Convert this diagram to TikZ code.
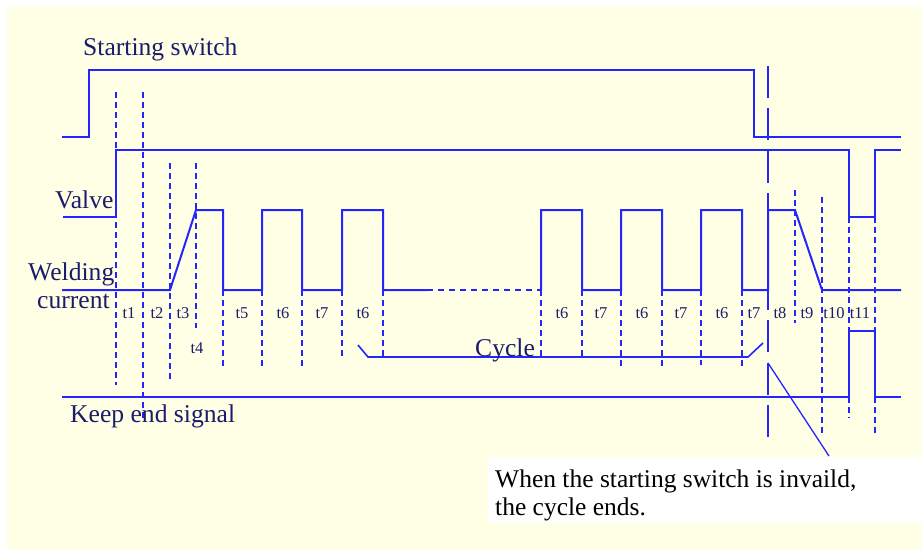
\documentclass[tikz,border=0pt]{standalone}
\usepackage{fontspec}
\setmainfont{Liberation Serif}
\definecolor{sigblue}{HTML}{2424FF}
\definecolor{paper}{HTML}{FFFFE6}
\definecolor{ink}{HTML}{1C1C6C}
\begin{document}
\begin{tikzpicture}[x=1pt,y=-1pt,
  sig/.style={draw=sigblue,line width=2pt,line join=miter},
  tick/.style={draw=sigblue,line width=1.8pt,dash pattern=on 6pt off 4pt},
  gapline/.style={draw=sigblue,line width=2pt,dash pattern=on 6pt off 5pt},
  stopline/.style={draw=sigblue,line width=2pt,dash pattern=on 32pt off 10.4pt},
  pointer/.style={draw=sigblue,line width=1.3pt},
  lbl/.style={text=ink,font=\fontsize{25.6}{28}\selectfont,inner sep=0pt,anchor=base west},
  tlbl/.style={text=ink,font=\fontsize{16.5}{18}\selectfont,inner sep=0pt,anchor=base},
  note/.style={text=black,font=\fontsize{25.5}{28}\selectfont,inner sep=0pt,anchor=base west}]
\useasboundingbox (0,0) rectangle (922,550);
% sheet
\fill[paper] (7,7) rectangle (922,550);
\fill[white] (488,457) rectangle (922,523);

% time-slot dividers
\foreach \x/\a/\b in {116/92/385, 143/92/418, 170/163/382, 196/163/328,
                      223/290/368, 262/290/368, 302/290/368, 342/290/358, 383/290/357,
                      541/290/357, 582/290/357, 621/290/369, 662/290/369, 701/290/365, 742/290/369,
                      795/190/323, 822/197/433, 849/217/418, 875/217/433}
  \draw[tick] (\x,\a) -- (\x,\b);

% switch-off instant
\draw[stopline] (768,66) -- (768,437);

% starting switch
\draw[sig] (62,137) -- (89,137) -- (89,70) -- (754,70) -- (754,137) -- (901,137);
% valve
\draw[sig] (63,217) -- (116,217) -- (116,150) -- (849,150) -- (849,217) -- (875,217) -- (875,150) -- (901,150);
% welding current
\draw[sig] (62,290) -- (170,290) -- (196,210) -- (223,210) -- (223,290) -- (262,290) -- (262,210)
  -- (302,210) -- (302,290) -- (342,290) -- (342,210) -- (383,210) -- (383,290) -- (427,290);
\draw[gapline] (427,290) -- (541,290);
\draw[sig] (541,290) -- (541,210) -- (582,210) -- (582,290) -- (621,290) -- (621,210) -- (662,210)
  -- (662,290) -- (701,290) -- (701,210) -- (742,210) -- (742,290) -- (768,290) -- (768,210)
  -- (795,210) -- (822,290) -- (901,290);
% keep end signal
\draw[sig] (62,397) -- (849,397) -- (849,331) -- (875,331) -- (875,397) -- (901,397);
% cycle bracket
\draw[pointer,line width=1.6pt] (358,345) -- (368,357) -- (748,357) -- (763,343);
% annotation pointer
\draw[pointer] (768,363) -- (829,456);

% signal names
\node[lbl] (sw) at (83,55) {Starting switch};
\node[lbl] (va) at (55,208) {Valve};
\node[lbl] (we) at (28,280) {Welding};
\node[lbl] (cu) at (37,308) {current};
\node[lbl] (ke) at (70,422) {Keep end signal};
\node[lbl] (cy) at (475,356) {Cycle};

% interval names
\foreach \n/\x/\t in {a/129/t1, b/157/t2, c/183/t3, e/242/t5, f/283/t6, g/322/t7, h/363/t6,
                      i/562/t6, j/601/t7, k/642/t6, l/681/t7, m/722/t6, n/754/t7,
                      o/780/t8, p/807/t9, q/834/t10, r/860/t11}
  \node[tlbl] (lab\n) at (\x,318) {\t};
\node[tlbl] (labd) at (197,353) {t4};

% remark
\node[note] (n1) at (495,487) {When the starting switch is invaild,};
\node[note] (n2) at (495,515) {the cycle ends.};
\end{tikzpicture}
\end{document}
